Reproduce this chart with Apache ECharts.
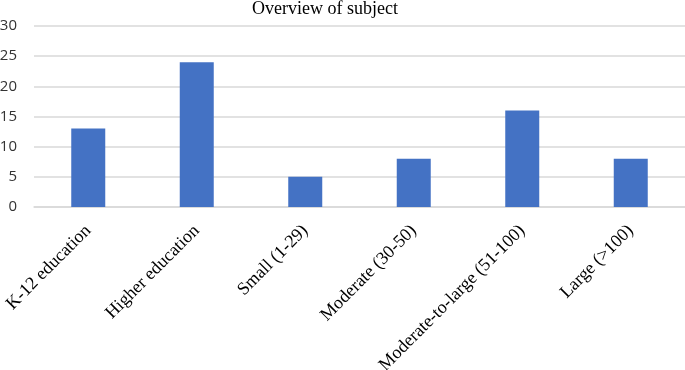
<!DOCTYPE html>
<html>
<head>
<meta charset="utf-8">
<script src="https://cdn.jsdelivr.net/npm/echarts@6/dist/echarts.min.js"></script>
<style>
  html, body { margin: 0; padding: 0; background: #fff; }
  #chart { width: 685px; height: 370px; }
</style>
</head>
<body>
<div id="chart"></div>
<script>
// 数据
const categories = ['K-12 education', 'Higher education', 'Small (1-29)', 'Moderate (30-50)', 'Moderate-to-large (51-100)', 'Large (>100)']
const counts = [13, 24, 5, 8, 16, 8]

const myChart = echarts.init(document.getElementById('chart'))
const option = {
  animation: false,
  title: {
    text: 'Overview of subject',
    left: 247,
    top: -5,
    textStyle: {
      fontFamily: 'Liberation Serif',
      fontSize: 18,
      fontWeight: 'normal',
      color: '#000'
    }
  },
  grid: {
    left: 34,
    right: 0,
    top: 26,
    bottom: 163,
    outerBoundsMode: 'none'
  },
  xAxis: {
    type: 'category',
    data: categories,
    axisLine: { lineStyle: { color: '#d9d9d9', width: 1.5 } },
    axisTick: { show: false },
    axisLabel: {
      interval: 0,
      rotate: 45,
      margin: 21,
      color: '#000',
      fontFamily: 'Liberation Serif',
      fontSize: 18
    }
  },
  yAxis: {
    type: 'value',
    min: 0,
    max: 30,
    interval: 5,
    axisLine: { show: false },
    axisTick: { show: false },
    splitLine: { lineStyle: { color: '#d9d9d9', width: 1.5 } },
    axisLabel: {
      margin: 17,
      color: '#333',
      fontFamily: 'Open Sans',
      fontSize: 15
    }
  },
  series: [{
    type: 'bar',
    data: counts,
    barWidth: 34,
    itemStyle: { color: '#4472C4' }
  }]
}
myChart.setOption(option)
</script>
</body>
</html>
